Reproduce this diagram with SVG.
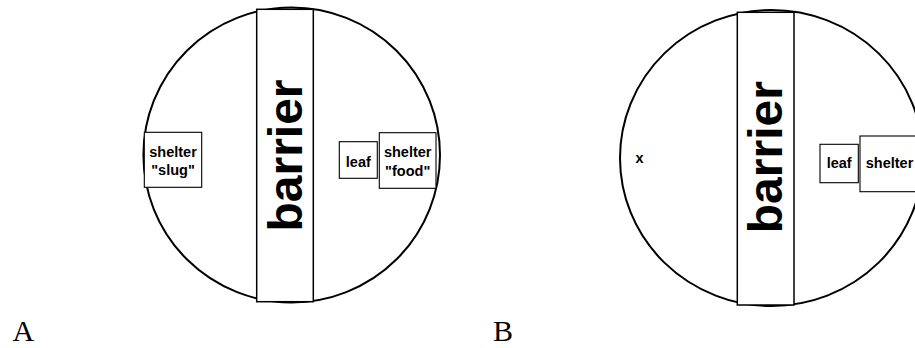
<svg xmlns="http://www.w3.org/2000/svg" width="915" height="348" viewBox="0 0 915 348">
  <style>
    .arena { fill: #fff; stroke: #000; stroke-width: 2; }
    .barrier { fill: #fff; stroke: #000; stroke-width: 1.5; }
    .box { fill: #fff; stroke: #000; stroke-width: 1.1; }
    .lbl { font-family: "Liberation Sans", Arial, sans-serif; font-weight: bold; font-size: 14.5px; text-anchor: middle; fill: #000; }
    .big { font-family: "Liberation Sans", Arial, sans-serif; font-weight: bold; font-size: 48px; text-anchor: middle; fill: #000; }
    .panel { font-family: "Liberation Serif", "Times New Roman", serif; font-size: 30px; fill: #000; }
  </style>

  <!-- Panel A -->
  <g id="arenaA">
    <ellipse class="arena" cx="291.7" cy="155" rx="148.3" ry="147.5"/>
  </g>
  <g id="barrierA">
    <rect class="barrier" x="256.7" y="9.3" width="56.6" height="292.4"/>
    <text class="big" transform="translate(301.5,155.5) rotate(-90)" x="0" y="0">barrier</text>
  </g>
  <g id="shelterSlugA">
    <rect class="box" x="144.3" y="132.3" width="57.4" height="55"/>
    <text class="lbl" x="173" y="156.5">shelter</text>
    <text class="lbl" x="173" y="175.3">"slug"</text>
  </g>
  <g id="leafA">
    <rect class="box" x="339.3" y="141.7" width="38" height="36.6"/>
    <text class="lbl" x="358.3" y="166.6">leaf</text>
  </g>
  <g id="shelterFoodA">
    <rect class="box" x="379.3" y="132.7" width="56.7" height="55.6"/>
    <text class="lbl" x="407.7" y="157">shelter</text>
    <text class="lbl" x="407.7" y="175.6">"food"</text>
  </g>
  <text class="panel" x="12.5" y="341">A</text>

  <!-- Panel B -->
  <g id="arenaB">
    <ellipse class="arena" cx="771.5" cy="158" rx="151.5" ry="148"/>
  </g>
  <g id="barrierB">
    <rect class="barrier" x="737.3" y="12.3" width="56.7" height="292.7"/>
    <text class="big" transform="translate(781.6,157.2) rotate(-90)" x="0" y="0">barrier</text>
  </g>
  <g id="markB">
    <text class="lbl" x="639.5" y="163.3">x</text>
  </g>
  <g id="leafB">
    <rect class="box" x="820" y="144.3" width="38.3" height="38.4"/>
    <text class="lbl" x="839.2" y="168.3">leaf</text>
  </g>
  <g id="shelterB">
    <rect class="box" x="860" y="136" width="59" height="55.7"/>
    <text class="lbl" x="889.5" y="168.3">shelter</text>
  </g>
  <text class="panel" x="493" y="341">B</text>
</svg>
